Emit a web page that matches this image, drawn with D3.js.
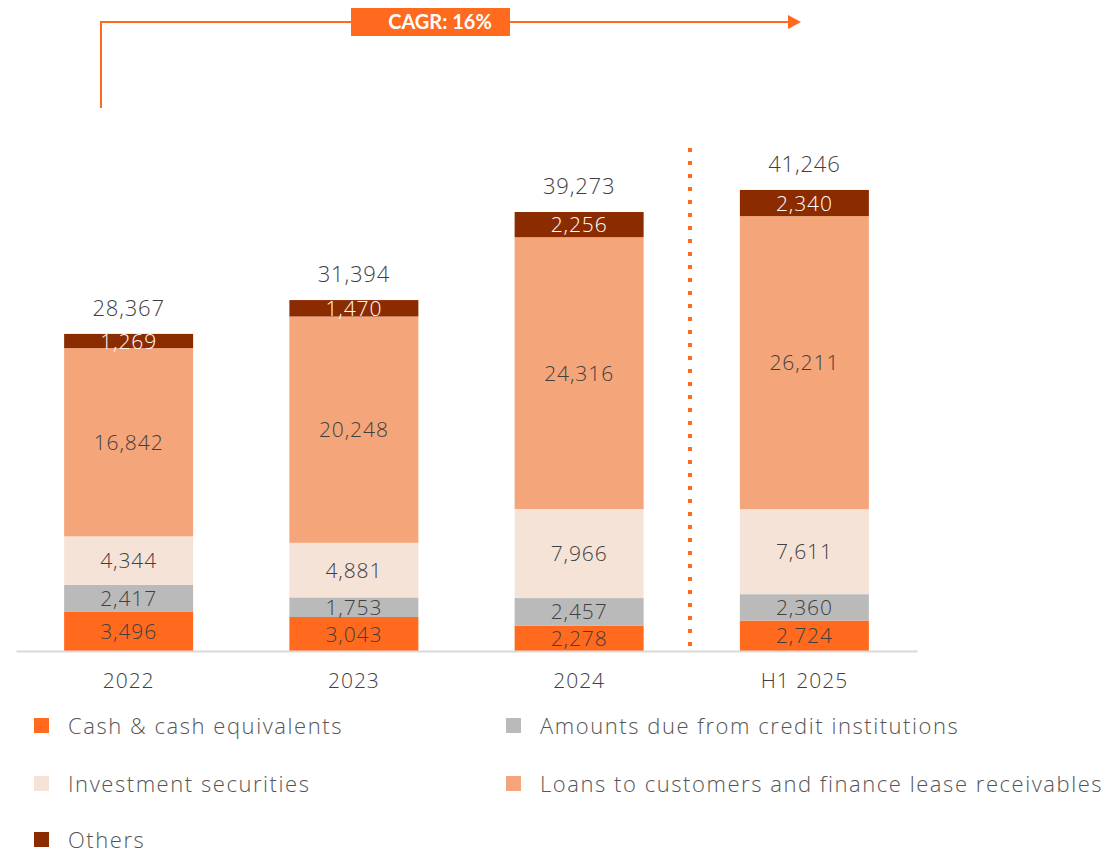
<!DOCTYPE html>
<html>
<head>
<meta charset="utf-8">
<script src="https://cdn.jsdelivr.net/npm/d3@7"></script>
<style>
  body { margin: 0; background: #fff; }
  svg text { font-family: "Open Sans", Lato, sans-serif; font-weight: 300; }
</style>
</head>
<body>
<svg id="chart" width="1106" height="853"></svg>
<script>
// chart values
const categories = ["2022", "2023", "2024", "H1 2025"];
const seriesNames = ["Cash & cash equivalents", "Amounts due from credit institutions",
  "Investment securities", "Loans to customers and finance lease receivables", "Others"];
const cash = [3496, 3043, 2278, 2724];
const dueFromCI = [2417, 1753, 2457, 2360];
const investment = [4344, 4881, 7966, 7611];
const loans = [16842, 20248, 24316, 26211];
const others = [1269, 1470, 2256, 2340];
const totals = [28367, 31394, 39273, 41246];
const cagrLabel = "CAGR: 16%";

const colors = ["#ff6a1f", "#bababa", "#f6e3d8", "#f5a57a", "#8b2c00"];
const labelColors = ["#404040", "#404040", "#404040", "#404040", "#ffffff"];

const svg = d3.select("#chart");

const baseY = 651;
const x = d3.scaleBand().domain(categories).range([16, 917]);
const y = d3.scaleLinear().domain([0, 45000]).range([baseY, baseY - 503]);
const barW = 129;

// build stacked data
const rows = categories.map((c, i) => ({
  cat: c, s0: cash[i], s1: dueFromCI[i], s2: investment[i], s3: loans[i], s4: others[i]
}));
const keys = ["s0", "s1", "s2", "s3", "s4"];
const stacked = d3.stack().keys(keys)(rows);

const barX = d => x(d.data.cat) + x.bandwidth() / 2 - barW / 2;

const layer = svg.append("g").selectAll("g")
  .data(stacked)
  .join("g")
  .attr("fill", (d, i) => colors[i]);

layer.selectAll("rect")
  .data(d => d)
  .join("rect")
  .attr("x", barX)
  .attr("width", barW)
  .attr("y", d => y(d[1]))
  .attr("height", d => y(d[0]) - y(d[1]));

// segment labels
stacked.forEach((s, i) => {
  svg.append("g").selectAll("text")
    .data(s)
    .join("text")
    .attr("x", d => x(d.data.cat) + x.bandwidth() / 2)
    .attr("y", d => (y(d[0]) + y(d[1])) / 2)
    .attr("dy", "0.36em")
    .attr("text-anchor", "middle")
    .attr("font-size", 21)
    .attr("letter-spacing", 0.9)
    .attr("fill", labelColors[i])
    .text(d => d3.format(",")(d.data[keys[i]]));
});

// totals
svg.append("g").selectAll("text")
  .data(categories)
  .join("text")
  .attr("x", c => x(c) + x.bandwidth() / 2)
  .attr("y", (c, i) => y(totals[i]) - 18)
  .attr("text-anchor", "middle")
  .attr("font-size", 22)
  .attr("letter-spacing", 0.8)
  .attr("fill", "#404040")
  .text((c, i) => d3.format(",")(totals[i]));

// axis
const xAxis = svg.append("g")
  .attr("transform", `translate(0,${baseY})`)
  .call(d3.axisBottom(x).tickSize(0).tickPadding(22));
xAxis.select(".domain").attr("stroke", "#d9d9d9").attr("stroke-width", 2);
xAxis.selectAll("text")
  .attr("font-size", 21)
  .attr("letter-spacing", 1)
  .attr("fill", "#404040")
  .style("font-family", "'Open Sans', sans-serif")
  .style("font-weight", 300);

// dotted separator between 2024 and H1 2025
svg.append("line")
  .attr("x1", 690).attr("x2", 690)
  .attr("y1", 148).attr("y2", 650)
  .attr("stroke", "#ff6a1f")
  .attr("stroke-width", 4)
  .attr("stroke-dasharray", "4 9");

// CAGR arrow
const ag = svg.append("g");
ag.append("path")
  .attr("d", "M101,108 V22 H792")
  .attr("fill", "none")
  .attr("stroke", "#ff6a1f")
  .attr("stroke-width", 2);
ag.append("path")
  .attr("d", "M788,15 L801,22 L788,29 Z")
  .attr("fill", "#ff6a1f");
ag.append("rect")
  .attr("x", 351).attr("y", 8)
  .attr("width", 159).attr("height", 28)
  .attr("fill", "#ff6a1f");
ag.append("text")
  .attr("x", 440).attr("y", 22)
  .attr("dy", "0.36em")
  .attr("text-anchor", "middle")
  .attr("font-size", 20)
  .style("font-weight", 700)
  .style("font-family", "Lato, sans-serif")
  .attr("fill", "#fff")
  .text(cagrLabel);

// legend
const legendPos = [[34, 726], [506, 726], [34, 784], [506, 784], [34, 840]];
const lg = svg.append("g").selectAll("g")
  .data(seriesNames)
  .join("g")
  .attr("transform", (d, i) => `translate(${legendPos[i][0]},${legendPos[i][1]})`);
lg.append("rect")
  .attr("x", 0).attr("y", -8)
  .attr("width", 15).attr("height", 15)
  .attr("fill", (d, i) => colors[i]);
lg.append("text")
  .attr("x", 34)
  .attr("dy", "0.36em")
  .attr("font-size", 22)
  .attr("letter-spacing", 1.55)
  .attr("fill", "#555")
  .text(d => d);
</script>
</body>
</html>
